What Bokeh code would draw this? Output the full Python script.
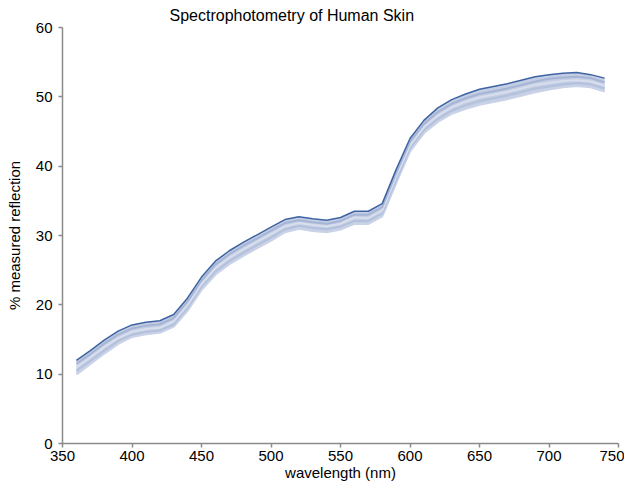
from bokeh.plotting import figure
from bokeh.models import Range1d, FixedTicker
from bokeh.embed import file_html
from bokeh.resources import INLINE

wavelength = [360, 370, 380, 390, 400, 410, 420, 430, 440, 450, 460, 470, 480, 490,
              500, 510, 520, 530, 540, 550, 560, 570, 580, 590, 600, 610, 620, 630,
              640, 650, 660, 670, 680, 690, 700, 710, 720, 730, 740]

skin_1 = [12.0, 13.4, 14.9, 16.2, 17.1, 17.5, 17.7, 18.6, 21.0, 24.0, 26.3, 27.8, 29.0, 30.1,
          31.2, 32.3, 32.7, 32.4, 32.2, 32.6, 33.5, 33.5, 34.6, 39.5, 44.0, 46.6, 48.4, 49.6,
          50.4, 51.1, 51.5, 51.9, 52.4, 52.9, 53.2, 53.4, 53.5, 53.2, 52.7]
skin_2 = [11.5, 12.9, 14.4, 15.7, 16.6, 17.0, 17.2, 18.1, 20.5, 23.5, 25.8, 27.3, 28.5, 29.6,
          30.7, 31.8, 32.2, 31.9, 31.7, 32.1, 33.0, 33.0, 34.1, 39.0, 43.5, 46.1, 47.8, 49.0,
          49.8, 50.4, 50.8, 51.2, 51.7, 52.2, 52.6, 52.8, 52.9, 52.7, 52.1]
skin_3 = [11.0, 12.4, 13.9, 15.2, 16.1, 16.5, 16.7, 17.6, 20.0, 23.0, 25.3, 26.8, 28.0, 29.1,
          30.2, 31.3, 31.8, 31.5, 31.3, 31.7, 32.6, 32.5, 33.6, 38.5, 43.0, 45.6, 47.3, 48.5,
          49.3, 49.9, 50.3, 50.7, 51.2, 51.7, 52.0, 52.3, 52.4, 52.2, 51.6]
skin_4 = [10.5, 11.9, 13.4, 14.8, 15.7, 16.1, 16.3, 17.2, 19.6, 22.6, 24.8, 26.3, 27.5, 28.6,
          29.7, 30.9, 31.4, 31.1, 30.9, 31.3, 32.1, 32.1, 33.2, 38.0, 42.6, 45.2, 46.8, 48.0,
          48.8, 49.4, 49.8, 50.2, 50.7, 51.2, 51.5, 51.8, 52.0, 51.8, 51.2]
skin_5 = [10.0, 11.5, 13.0, 14.4, 15.4, 15.8, 16.0, 16.9, 19.2, 22.2, 24.4, 25.9, 27.1, 28.2,
          29.3, 30.5, 31.0, 30.7, 30.5, 30.9, 31.7, 31.7, 32.8, 37.6, 42.2, 44.8, 46.4, 47.6,
          48.3, 48.9, 49.3, 49.7, 50.2, 50.7, 51.1, 51.4, 51.6, 51.4, 50.8]

x_ticks = [350, 400, 450, 500, 550, 600, 650, 700, 750]
y_ticks = [0, 10, 20, 30, 40, 50, 60]

FONT = "Liberation Sans"
AXIS_COLOR = "#8a8a8a"

p = figure(frame_width=556, frame_height=416, output_backend="svg", toolbar_location=None,
           x_range=Range1d(350, 750), y_range=Range1d(0, 60),
           title="Spectrophotometry of Human Skin",
           min_border_left=62, min_border_right=6, min_border_top=12, min_border_bottom=30)

p.title.text_font = FONT
p.title.text_font_size = "16px"
p.title.text_font_style = "normal"
p.title.text_color = "#000000"
p.title.align = "left"
p.title.offset = 107
p.title.standoff = 8

p.outline_line_color = None
p.xgrid.visible = False
p.ygrid.visible = False
p.background_fill_color = "white"
p.border_fill_color = "white"

p.varea(x=wavelength, y1=skin_5, y2=skin_1, fill_color="#c3cde3", fill_alpha=1.0)
p.line(wavelength, skin_5, line_color="#c9d2e7", line_width=2.5)
p.line(wavelength, skin_4, line_color="#b4c1dc", line_width=2.0)
p.line(wavelength, skin_3, line_color="#d7deed", line_width=2.0)
p.line(wavelength, skin_2, line_color="#a6b5d6", line_width=2.0)
p.line(wavelength, skin_1, line_color="#3f64a3", line_width=1.5)

for ax in (p.xaxis[0], p.yaxis[0]):
    ax.axis_line_color = AXIS_COLOR
    ax.axis_line_width = 1.5
    ax.major_tick_line_color = AXIS_COLOR
    ax.major_tick_line_width = 1.5
    ax.major_tick_out = 4
    ax.major_tick_in = 0
    ax.minor_tick_line_color = None
    ax.major_label_text_font = FONT
    ax.major_label_text_font_size = "15px"
    ax.major_label_text_color = "#000000"
    ax.axis_label_text_font = FONT
    ax.axis_label_text_font_size = "15px"
    ax.axis_label_text_font_style = "normal"
    ax.axis_label_text_color = "#000000"
    ax.major_label_standoff = 3

p.yaxis[0].major_label_standoff = 6
p.xaxis[0].ticker = FixedTicker(ticks=x_ticks)
p.yaxis[0].ticker = FixedTicker(ticks=y_ticks)
p.xaxis[0].axis_label = "wavelength (nm)"
p.yaxis[0].axis_label = "% measured reflection"
p.xaxis[0].axis_label_standoff = 0
p.yaxis[0].axis_label_standoff = 10

open("out.html", "w").write(file_html(p, INLINE))
